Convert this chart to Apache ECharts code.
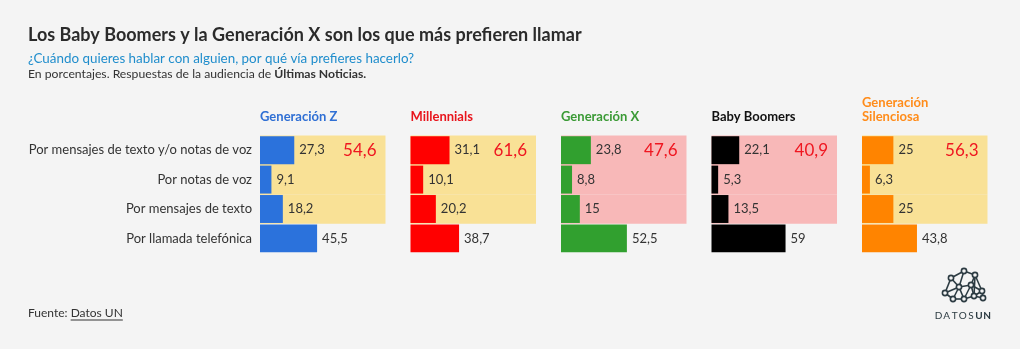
<!DOCTYPE html>
<html><head><meta charset="utf-8">
<script src="https://cdn.jsdelivr.net/npm/echarts@6/dist/echarts.min.js"></script>
<style>html,body{margin:0;padding:0;background:#f4f4f4}#c{width:1020px;height:349px}</style>
</head><body><div id="c"></div>
<script>
// ---- data ----
const categories = ["Por mensajes de texto y/o notas de voz","Por notas de voz","Por mensajes de texto","Por llamada telefónica"];
const generations = ["Generación Z","Millennials","Generación X","Baby Boomers","Generación\nSilenciosa"];
const genZ = [27.3, 9.1, 18.2, 45.5];
const millennials = [31.1, 10.1, 20.2, 38.7];
const genX = [23.8, 8.8, 15, 52.5];
const boomers = [22.1, 5.3, 13.5, 59];
const silent = [25, 6.3, 25, 43.8];
const textTotals = [54.6, 61.6, 47.6, 40.9, 56.3];
const seriesValues = [genZ, millennials, genX, boomers, silent];

const FONT = 'Lato, "Noto Sans", sans-serif';
const barColors = ['#2b72dc','#ff0000','#31a02f','#000000','#ff8400'];
const titleColors = ['#2f6fd4','#e8141c','#3a9a35','#111111','#ff8c1a'];
const bgColors = ['#f9e196','#f9e196','#f8b8b8','#f8b8b8','#f9e196'];
const lefts = [260, 410.5, 561, 711.5, 862];
const fmt = v => String(v).replace('.', ',');

const grid = [], xAxis = [], yAxis = [], series = [], graphic = [];
lefts.forEach((l, i) => {
  grid.push({left: l, top: 135.5, width: 125.5, height: 117.6, containLabel: false});
  xAxis.push({type: 'value', gridIndex: i, min: 0, max: 100, show: false});
  yAxis.push({type: 'category', gridIndex: i, data: categories, inverse: true,
    axisLine: {show: false}, axisTick: {show: false},
    axisLabel: {show: i === 0, fontFamily: FONT, fontSize: 13, color: '#333', margin: 8}});
  yAxis.push({type: 'category', gridIndex: i, data: categories, inverse: true, show: false});
  series.push({type: 'bar', xAxisIndex: i, yAxisIndex: 2*i+1, barCategoryGap: '0%', silent: true, z: 1,
    itemStyle: {color: bgColors[i]},
    data: [{value: 100, label: {show: true, position: 'insideRight', distance: 9,
      formatter: () => fmt(textTotals[i]), color: '#ef1620', fontFamily: FONT, fontSize: 17}}, 100, 100, '-']});
  series.push({type: 'bar', xAxisIndex: i, yAxisIndex: 2*i, barCategoryGap: '5%', z: 3,
    itemStyle: {color: barColors[i]},
    label: {show: true, position: 'right', distance: 5, color: '#333', fontFamily: FONT, fontSize: 13,
      formatter: p => fmt(p.value)},
    data: seriesValues[i]});
  const two = generations[i].indexOf('\n') >= 0;
  graphic.push({type: 'text', left: l, top: two ? 96.5 : 110.5,
    style: {text: generations[i], fill: titleColors[i], font: 'bold 13px ' + FONT, lineHeight: 13.5}});
});

// headings
graphic.push({type: 'text', left: 28, top: 26.5, style: {text: 'Los Baby Boomers y la Generación X son los que más prefieren llamar', fill: '#2b2b2b', font: 'bold 18px ' + FONT}});
graphic.push({type: 'text', left: 28, top: 52, style: {text: '¿Cuándo quieres hablar con alguien, por qué vía prefieres hacerlo?', fill: '#1f8dcc', font: '13.4px ' + FONT}});
graphic.push({type: 'text', left: 28, top: 68.5, style: {rich: {n: {font: '12.2px ' + FONT, fill: '#333'}, b: {font: 'bold 12.2px ' + FONT, fill: '#333'}},
  text: '{n|En porcentajes. Respuestas de la audiencia de }{b|Últimas Noticias.}'}});

// footer
const ctx = document.createElement('canvas').getContext('2d');
ctx.font = '12px ' + FONT;
const w1 = ctx.measureText('Fuente: ').width, w2 = ctx.measureText('Datos UN').width;
graphic.push({type: 'text', left: 28, top: 307, style: {text: 'Fuente: Datos UN', fill: '#333', font: '12px ' + FONT}});
graphic.push({type: 'line', shape: {x1: 28 + w1, y1: 320, x2: 28 + w1 + w2, y2: 320}, style: {stroke: '#333', lineWidth: 1}});

// logo
const nodes = [[964,271],[975,275],[951,278],[959,287],[971,285],[945,293],[982,291],[974,296],[964,299],[953,299],[983,298]];
const edges = [[0,1],[0,2],[2,3],[2,5],[0,3],[3,4],[1,4],[1,6],[4,6],[4,7],[3,8],[5,9],[9,8],[8,7],[7,6],[3,5],[1,7],[6,10],[7,10],[3,9],[4,8]];
edges.forEach(e => graphic.push({type: 'line', shape: {x1: nodes[e[0]][0], y1: nodes[e[0]][1], x2: nodes[e[1]][0], y2: nodes[e[1]][1]}, style: {stroke: '#2c3b42', lineWidth: 1.6}, z: 10}));
nodes.forEach(n => graphic.push({type: 'circle', shape: {cx: n[0], cy: n[1], r: 2.6}, style: {fill: '#f4f4f4', stroke: '#2c3b42', lineWidth: 1.6}, z: 11}));
const logoLetters = ['D','A','T','O','S','U','N'];
logoLetters.forEach((ch, k) => graphic.push({type: 'text', x: 938.5 + k * 8.1, y: 316, z: 12,
  style: {text: ch, font: (k >= 5 ? 'bold ' : '') + '10px ' + FONT, fill: '#2c3b42', textAlign: 'center', textVerticalAlign: 'middle'}}));

const chart = echarts.init(document.getElementById('c'), null, {renderer: 'canvas'});
chart.setOption({backgroundColor: '#f4f4f4', animation: false, grid, xAxis, yAxis, series, graphic});
</script></body></html>
